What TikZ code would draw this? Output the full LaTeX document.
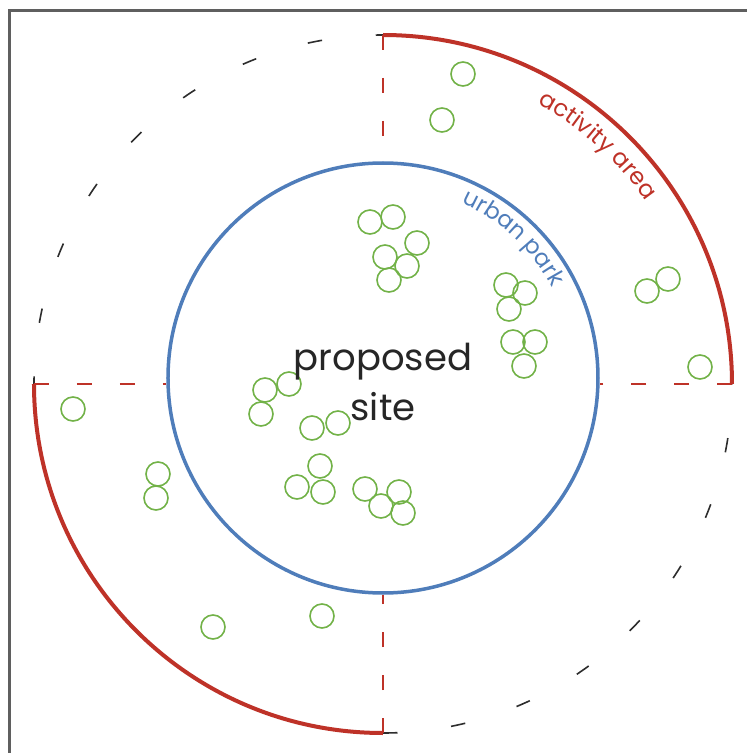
\documentclass[tikz,border=0pt]{standalone}
\usepackage{fontspec}
\setmainfont{Poppins}
\usetikzlibrary{decorations.text}

\definecolor{parkblue}{RGB}{79,125,186}
\definecolor{zonered}{RGB}{190,50,40}
\definecolor{treegreen}{RGB}{114,178,72}
\definecolor{framegray}{RGB}{95,95,95}
\definecolor{dashgray}{RGB}{45,45,45}

\begin{document}
\begin{tikzpicture}[x=1pt,y=1pt,
  frame/.style={draw=framegray, line width=3pt},
  park/.style={circle, draw=parkblue, line width=3.5pt, minimum size=430pt, inner sep=0pt},
  zone/.style={draw=zonered, line width=4pt},
  spoke/.style={draw=zonered, line width=1.8pt, dash pattern=on 15pt off 28pt},
  bound/.style={draw=dashgray, line width=1.6pt, dash pattern=on 14.5pt off 54pt},
  tree/.style={draw=treegreen, line width=1.6pt},
  sitelabel/.style={font=\fontsize{37}{44}\selectfont, text=black!85, inner sep=0pt, anchor=base},
]
% page area, centre of the rings at the origin
\clip (-383,-369) rectangle (364,384);
\fill[white] (-383,-369) rectangle (364,384);

% outer frame (only its top and left sides fall on the page)
\draw[frame] (-373,-400) -- (-373,373) -- (400,373);

% ring points
\coordinate (ctr) at (0,0);
\coordinate (outerN) at (90:349);
\coordinate (outerS) at (270:349);
\coordinate (outerW) at (180:349);
\coordinate (outerE) at (0:349);

% urban park boundary
\node[park] (park) at (0,6) {};

% boundary of the wider area, dashed quarters
\draw[bound, dash phase=7.25pt] (outerN) arc[start angle=90, end angle=180, radius=349];
\draw[bound] (outerS) arc[start angle=270, end angle=360, radius=349];

% activity area quarters
\draw[zone] (outerN) arc[start angle=90, end angle=0, radius=349];
\draw[zone] (outerW) arc[start angle=180, end angle=270, radius=349];

% dashed spokes between the park edge and the outer ring
\draw[spoke] (outerN) -- (park.north);
\draw[spoke] (outerS) -- (park.south);
\draw[spoke] (outerW) -- (outerW -| park.west);
\draw[spoke] (outerE) -- (outerE -| park.east);

% trees
\foreach \px/\py in {463/74, 442/120,
    370/222, 393/217, 417/243, 385/257, 407/266, 389/280,
    506/285, 525/293, 509/309, 513/342, 535/342, 524/366,
    647/291, 668/279, 700/367,
    265/390, 289/384, 261/414, 312/428, 338/423, 320/466,
    297/487, 323/492, 365/489, 399/492, 381/506, 403/513,
    73/409, 158/474, 156/498, 213/627, 322/616}
  \draw[tree] ({\px-383},{384-\py}) circle (12);

% centre label
\node[sitelabel] (site1) at (0,14) {proposed};
\node[sitelabel] (site2) at (0,-36) {site};

% curved labels
\path[decorate, decoration={text along path, text align=center,
    text={|\fontsize{23}{23}\selectfont\color{parkblue}|urban park}}]
  ([shift={(0,6)}]77:192) arc[start angle=77, end angle=17, radius=192];
\path[decorate, decoration={text along path, text align=center,
    text={|\fontsize{23.5}{23.5}\selectfont\color{zonered}|activity area}}]
  (76:320) arc[start angle=76, end angle=20, radius=320];
\end{tikzpicture}
\end{document}
